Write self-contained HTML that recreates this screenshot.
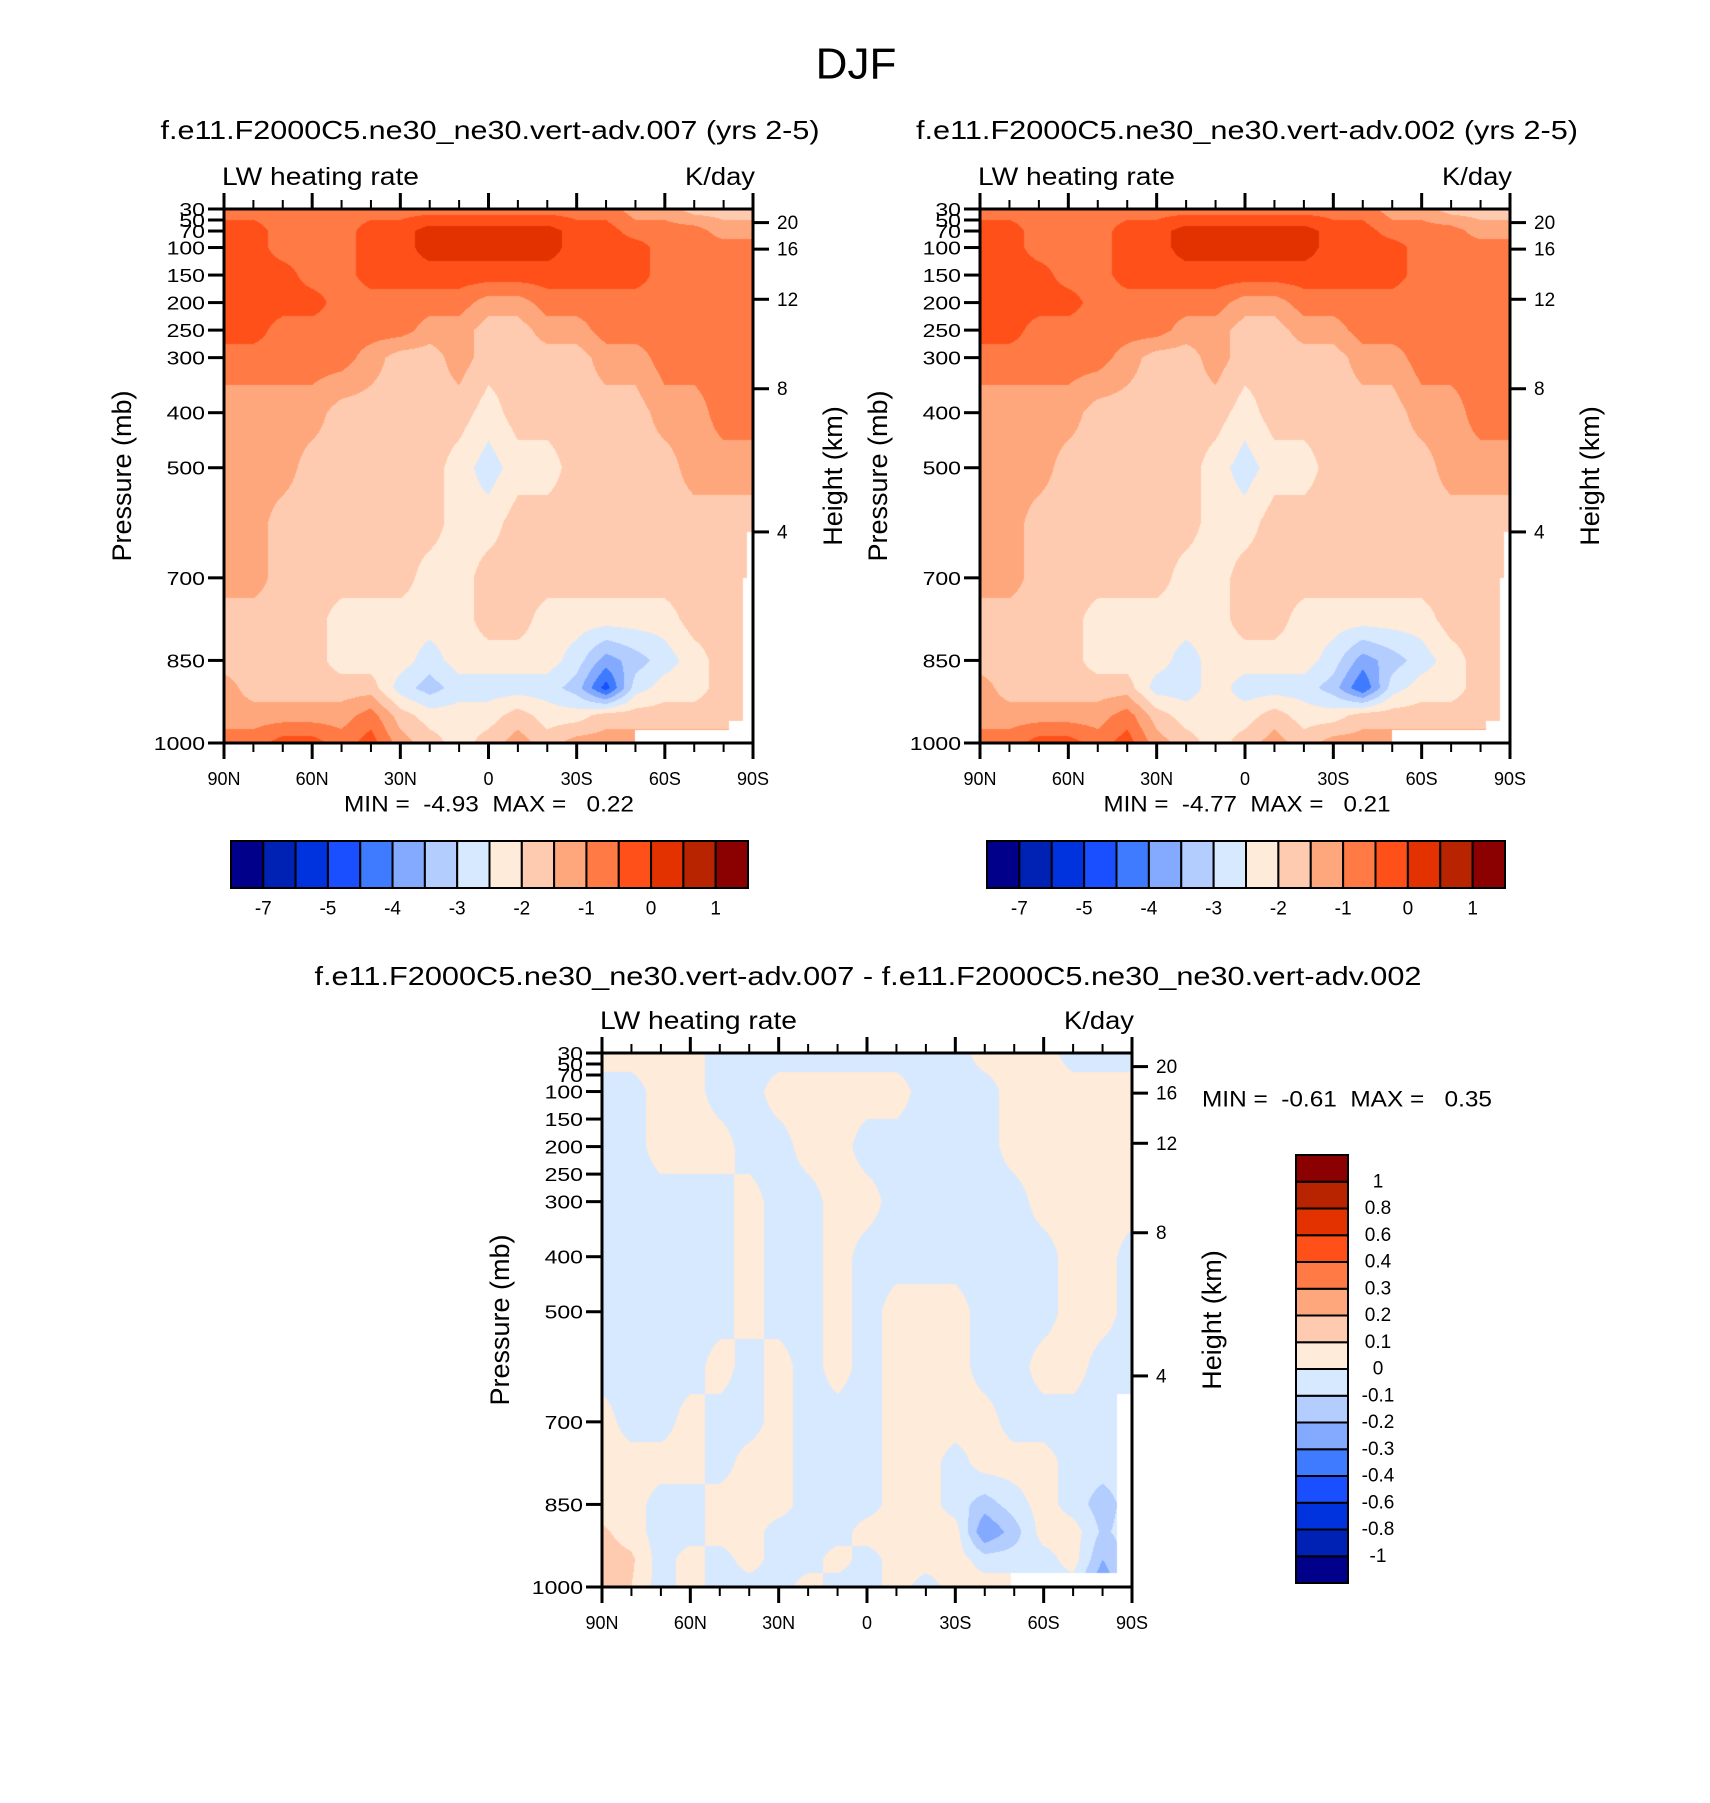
<!DOCTYPE html>
<html><head><meta charset="utf-8">
<style>
html,body{margin:0;padding:0;background:#fff;}
#wrap{position:relative;width:1710px;height:1803px;overflow:hidden;background:#fff;}
canvas{position:absolute;}
svg{position:absolute;left:0;top:0;}
text{font-family:"Liberation Sans",sans-serif;fill:#000;}
</style></head>
<body>
<div id="wrap">
<canvas id="c1"></canvas>
<canvas id="c2"></canvas>
<canvas id="c3"></canvas>
<svg id="svg" width="1710" height="1803" viewBox="0 0 1710 1803"></svg>
</div>
<script>
// ---------- DATA ----------
const palette = ["#00008a","#0022b4","#0033dd","#1a4fff","#3f7bff","#84aaff","#b3cdff","#d7e9ff","#ffebd9","#ffcbb0","#ffa77c","#ff7a44","#ff5019","#e33200","#b82300","#8b0000"];
const levels1 = [-7,-6,-5,-4.5,-4,-3.5,-3,-2.5,-2,-1.5,-1,-0.5,0,0.5,1];
const cbLabels1 = ["-7","","-5","","-4","","-3","","-2","","-1","","0","","1"];
const levels3 = [-1,-0.8,-0.6,-0.4,-0.3,-0.2,-0.1,0,0.1,0.2,0.3,0.4,0.6,0.8,1];
const cbLabels3 = ["-1","-0.8","-0.6","-0.4","-0.3","-0.2","-0.1","0","0.1","0.2","0.3","0.4","0.6","0.8","1"];
const lats = [90,80,70,60,50,40,30,20,10,0,-10,-20,-30,-40,-50,-60,-70,-80,-90];
const pres1 = [30,70,100,150,200,250,300,400,500,600,700,775,850,900,950,1000];
const field1 = [
[-0.75,-0.75,-0.75,-0.75,-0.75,-0.75,-0.75,-0.75,-0.75,-0.75,-0.75,-0.75,-0.75,-0.75,-1.25,-1.25,-1.75,-1.75,-1.75],
[-0.25,-0.25,-0.75,-0.75,-0.75,-0.25,-0.25,0.25,0.25,0.25,0.25,0.25,-0.25,-0.25,-0.75,-0.75,-0.75,-1.25,-1.25],
[-0.25,-0.25,-0.75,-0.75,-0.75,-0.25,-0.25,0.25,0.25,0.25,0.25,0.25,-0.25,-0.25,-0.25,-0.75,-0.75,-0.75,-0.75],
[-0.25,-0.25,-0.25,-0.75,-0.75,-0.25,-0.25,-0.25,-0.25,-0.25,-0.25,-0.25,-0.25,-0.25,-0.25,-0.75,-0.75,-0.75,-0.75],
[-0.25,-0.25,-0.25,-0.25,-0.75,-0.75,-0.75,-0.75,-0.75,-1.25,-1.25,-0.75,-0.75,-0.75,-0.75,-0.75,-0.75,-0.75,-0.75],
[-0.25,-0.25,-0.75,-0.75,-0.75,-0.75,-0.75,-1.25,-1.25,-1.75,-1.75,-1.25,-1.25,-0.75,-0.75,-0.75,-0.75,-0.75,-0.75],
[-0.75,-0.75,-0.75,-0.75,-0.75,-1.25,-1.75,-1.75,-1.25,-1.75,-1.75,-1.75,-1.75,-1.25,-1.25,-0.75,-0.75,-0.75,-0.75],
[-1.25,-1.25,-1.25,-1.25,-1.75,-1.75,-1.75,-1.75,-1.75,-2.25,-1.75,-1.75,-1.75,-1.75,-1.75,-1.25,-1.25,-0.75,-0.75],
[-1.25,-1.25,-1.25,-1.75,-1.75,-1.75,-1.75,-1.75,-2.25,-2.75,-2.25,-2.25,-1.75,-1.75,-1.75,-1.75,-1.25,-1.25,-1.25],
[-1.25,-1.25,-1.75,-1.75,-1.75,-1.75,-1.75,-1.75,-2.25,-2.25,-1.75,-1.75,-1.75,-1.75,-1.75,-1.75,-1.75,-1.75,-1.75],
[-1.25,-1.25,-1.75,-1.75,-1.75,-1.75,-1.75,-2.25,-2.25,-1.75,-1.75,-1.75,-1.75,-1.75,-1.75,-1.75,-1.75,-1.75,-1.75],
[-1.75,-1.75,-1.75,-1.75,-2.25,-2.25,-2.25,-2.25,-2.25,-1.75,-1.75,-2.25,-2.25,-2.25,-2.25,-2.25,-1.75,-1.75,-1.75],
[-1.75,-1.75,-1.75,-1.75,-2.25,-2.25,-2.25,-2.75,-2.25,-2.25,-2.25,-2.25,-2.75,-3.75,-3.25,-2.75,-2.25,-1.75,-1.75],
[-1.25,-1.75,-1.75,-1.75,-1.75,-1.75,-2.75,-3.25,-2.75,-2.75,-2.75,-2.75,-3.25,-4.75,-2.75,-2.25,-2.25,-1.75,-1.75],
[-1.25,-1.25,-1.25,-1.25,-1.25,-0.75,-1.75,-2.25,-2.25,-2.25,-1.75,-2.25,-2.25,-1.75,-1.75,-1.75,-1.75,-1.75,-1.75],
[-0.75,-0.75,-0.25,-0.25,-0.75,-0.25,-1.25,-1.75,-2.25,-1.75,-1.25,-1.75,-1.25,-1.25,-1.25,-1.25,-1.25,-1.25,-1.25]
];
const field2 = [
[-0.75,-0.75,-0.75,-0.75,-0.75,-0.75,-0.75,-0.75,-0.75,-0.75,-0.75,-0.75,-0.75,-0.75,-1.25,-1.25,-1.75,-1.75,-1.75],
[-0.25,-0.25,-0.75,-0.75,-0.75,-0.25,-0.25,0.25,0.25,0.25,0.25,0.25,-0.25,-0.25,-0.75,-0.75,-0.75,-1.25,-1.25],
[-0.25,-0.25,-0.75,-0.75,-0.75,-0.25,-0.25,0.25,0.25,0.25,0.25,0.25,-0.25,-0.25,-0.25,-0.75,-0.75,-0.75,-0.75],
[-0.25,-0.25,-0.25,-0.75,-0.75,-0.25,-0.25,-0.25,-0.25,-0.25,-0.25,-0.25,-0.25,-0.25,-0.25,-0.75,-0.75,-0.75,-0.75],
[-0.25,-0.25,-0.25,-0.25,-0.75,-0.75,-0.75,-0.75,-0.75,-1.25,-1.25,-0.75,-0.75,-0.75,-0.75,-0.75,-0.75,-0.75,-0.75],
[-0.25,-0.25,-0.75,-0.75,-0.75,-0.75,-0.75,-1.25,-1.25,-1.75,-1.75,-1.25,-1.25,-0.75,-0.75,-0.75,-0.75,-0.75,-0.75],
[-0.75,-0.75,-0.75,-0.75,-0.75,-1.25,-1.75,-1.75,-1.25,-1.75,-1.75,-1.75,-1.75,-1.25,-1.25,-0.75,-0.75,-0.75,-0.75],
[-1.25,-1.25,-1.25,-1.25,-1.75,-1.75,-1.75,-1.75,-1.75,-2.25,-1.75,-1.75,-1.75,-1.75,-1.75,-1.25,-1.25,-0.75,-0.75],
[-1.25,-1.25,-1.25,-1.75,-1.75,-1.75,-1.75,-1.75,-2.25,-2.75,-2.25,-2.25,-1.75,-1.75,-1.75,-1.75,-1.25,-1.25,-1.25],
[-1.25,-1.25,-1.75,-1.75,-1.75,-1.75,-1.75,-1.75,-2.25,-2.25,-1.75,-1.75,-1.75,-1.75,-1.75,-1.75,-1.75,-1.75,-1.75],
[-1.25,-1.25,-1.75,-1.75,-1.75,-1.75,-1.75,-2.25,-2.25,-1.75,-1.75,-1.75,-1.75,-1.75,-1.75,-1.75,-1.75,-1.75,-1.75],
[-1.75,-1.75,-1.75,-1.75,-2.25,-2.25,-2.25,-2.25,-2.25,-1.75,-1.75,-2.25,-2.25,-2.25,-2.25,-2.25,-1.75,-1.75,-1.75],
[-1.75,-1.75,-1.75,-1.75,-2.25,-2.25,-2.25,-2.75,-2.25,-2.25,-2.25,-2.25,-2.75,-3.75,-3.25,-2.75,-2.25,-1.75,-1.75],
[-1.25,-1.75,-1.75,-1.75,-1.75,-1.75,-2.75,-2.75,-2.25,-2.75,-2.75,-2.75,-3.25,-4.5,-2.75,-2.25,-2.25,-1.75,-1.75],
[-1.25,-1.25,-1.25,-1.25,-1.25,-0.75,-1.75,-2.25,-2.25,-2.25,-1.75,-2.25,-2.25,-1.75,-1.75,-1.75,-1.75,-1.75,-1.75],
[-0.75,-0.75,-0.25,-0.25,-0.75,-0.25,-1.25,-1.75,-2.25,-1.75,-1.25,-1.75,-1.25,-1.25,-1.25,-1.25,-1.25,-1.25,-1.25]
];
const pres3 = [30,100,200,300,400,500,600,700,775,850,900,950,1000];
const field3 = [
[0.05,0.05,0.05,0.05,-0.05,-0.05,-0.05,-0.05,-0.05,-0.05,-0.05,-0.05,-0.05,0.05,0.05,0.05,-0.05,-0.05,-0.05],
[-0.05,-0.05,0.05,0.05,-0.05,-0.05,0.05,0.05,0.05,0.05,0.05,-0.05,-0.05,-0.05,0.05,0.05,0.05,0.05,0.05],
[-0.05,-0.05,0.05,0.05,0.05,-0.05,-0.05,0.05,0.05,-0.05,-0.05,-0.05,-0.05,-0.05,0.05,0.05,0.05,0.05,0.05],
[-0.05,-0.05,-0.05,-0.05,-0.05,0.05,-0.05,-0.05,0.05,0.05,-0.05,-0.05,-0.05,-0.05,-0.05,0.05,0.05,0.05,0.05],
[-0.05,-0.05,-0.05,-0.05,-0.05,0.05,-0.05,-0.05,0.05,-0.05,-0.05,-0.05,-0.05,-0.05,-0.05,-0.05,0.05,0.05,-0.05],
[-0.05,-0.05,-0.05,-0.05,-0.05,0.05,-0.05,-0.05,0.05,-0.05,0.05,0.05,0.05,-0.05,-0.05,-0.05,0.05,0.05,-0.05],
[-0.05,-0.05,-0.05,-0.05,0.05,-0.05,0.05,-0.05,0.05,-0.05,0.05,0.05,0.05,-0.05,-0.05,0.05,0.05,-0.05,-0.05],
[0.05,-0.05,-0.05,0.05,-0.05,-0.05,0.05,-0.05,-0.05,-0.05,0.05,0.05,0.05,0.05,-0.05,-0.05,-0.05,-0.05,-0.05],
[0.05,0.05,0.05,0.05,-0.05,0.05,0.05,-0.05,-0.05,-0.05,0.05,0.05,-0.05,0.05,0.05,0.05,-0.05,-0.05,-0.05],
[0.05,0.05,-0.05,-0.05,0.05,0.05,0.05,-0.05,-0.05,-0.05,0.05,0.05,-0.05,-0.15,-0.05,0.05,-0.05,-0.15,-0.05],
[0.12,0.05,-0.05,-0.05,0.05,0.05,-0.05,-0.05,-0.05,0.05,0.05,0.05,0.05,-0.3,-0.15,0.05,0.05,-0.12,-0.05],
[0.15,0.12,-0.05,0.05,-0.05,0.05,-0.05,-0.05,0.05,-0.05,0.05,0.05,0.05,-0.05,-0.05,-0.05,0.05,-0.2,-0.05],
[0.15,0.1,-0.05,0.05,-0.05,-0.05,-0.05,0.05,-0.05,-0.05,0.05,-0.05,0.05,0.05,0.05,-0.05,-0.05,-0.3,-0.05]
];
// missing-data regions [latFrom, latTo, pFrom, pTo]
const missing1 = [[-50,-82,977,1000],[-82,-90,960,1000],[-86.5,-90,700,1000],[-88,-90,617,700]];
const missing3 = [[-49,-90,975,1000],[-85,-90,650,1000]];
const latTickMajor = [90,60,30,0,-30,-60,-90];
const latTickLabels = ["90N","60N","30N","0","30S","60S","90S"];
const latTickMinor = [80,70,50,40,20,10,-10,-20,-40,-50,-70,-80];
const presTicks = [30,50,70,100,150,200,250,300,400,500,700,850,1000];
const heightKm = [20,16,12,8,4];
const heightPres = [54.7,102.9,194.0,356.5,616.6];

// ---------- LAYOUT ----------
const P = [
 {x:224,y:209,w:529,h:534},
 {x:980,y:209,w:530,h:534},
 {x:602,y:1053,w:530,h:534}
];
const svg = document.getElementById('svg');
const NS = 'http://www.w3.org/2000/svg';
function mk(tag, attrs, parent){const e=document.createElementNS(NS,tag);for(const k in attrs)e.setAttribute(k,attrs[k]);(parent||svg).appendChild(e);return e;}
function txt(s, x, y, size, anchor, len){const t=mk('text',{x:x,y:y,'font-size':size,'text-anchor':anchor||'start','dominant-baseline':'central'});if(len){t.setAttribute('textLength',len);t.setAttribute('lengthAdjust','spacingAndGlyphs');}t.textContent=s;return t;}

function hex(c){return [parseInt(c.slice(1,3),16),parseInt(c.slice(3,5),16),parseInt(c.slice(5,7),16)];}

function drawField(cid, r, field, pres, levels, missing){
  const cv=document.getElementById(cid);
  cv.width=r.w;cv.height=r.h;cv.style.left=r.x+'px';cv.style.top=r.y+'px';
  const ctx=cv.getContext('2d');const img=ctx.createImageData(r.w,r.h);
  const pal=palette.map(hex);
  const nc=lats.length;
  for(let j=0;j<r.h;j++){
    const p=30+(j+0.5)/r.h*970;
    let k=0;while(k<pres.length-2 && p>pres[k+1])k++;
    const ty=Math.max(0,Math.min(1,(p-pres[k])/(pres[k+1]-pres[k])));
    for(let i=0;i<r.w;i++){
      const fx=(i+0.5)/r.w*(nc-1);const c=Math.min(nc-2,Math.floor(fx));const tx=fx-c;
      const v=(field[k][c]*(1-tx)+field[k][c+1]*tx)*(1-ty)+(field[k+1][c]*(1-tx)+field[k+1][c+1]*tx)*ty;
      let li=0;while(li<levels.length && v>=levels[li])li++;
      let col=pal[li];
      const lat=90-(i+0.5)/r.w*180;
      for(const m of missing){if(lat<=m[0]&&lat>=m[1]&&p>=m[2]&&p<=m[3]){col=[255,255,255];break;}}
      const o=(j*r.w+i)*4;img.data[o]=col[0];img.data[o+1]=col[1];img.data[o+2]=col[2];img.data[o+3]=255;
    }
  }
  ctx.putImageData(img,0,0);
}
drawField('c1',P[0],field1,pres1,levels1,missing1);
drawField('c2',P[1],field2,pres1,levels1,missing1);
drawField('c3',P[2],field3,pres3,levels3,missing3);

function xLat(r,lat){return r.x+(90-lat)/180*r.w;}
function yP(r,p){return r.y+(p-30)/970*r.h;}

function axes(r, idx){
  const g=mk('g',{});
  
  
  const frame=mk('rect',{x:r.x,y:r.y,width:r.w,height:r.h,fill:'none',stroke:'#000','stroke-width':3},g);
  
  
  latTickMajor.forEach((lat,i)=>{
    const x=xLat(r,lat);
    mk('line',{x1:x,y1:r.y,x2:x,y2:r.y-16,stroke:'#000','stroke-width':3},g);
    mk('line',{x1:x,y1:r.y+r.h,x2:x,y2:r.y+r.h+16,stroke:'#000','stroke-width':3},g);
    const t=txt(latTickLabels[i],x,r.y+r.h+36,18,'middle');
    
    
  });
  latTickMinor.forEach(lat=>{
    const x=xLat(r,lat);
    mk('line',{x1:x,y1:r.y,x2:x,y2:r.y-9,stroke:'#000','stroke-width':2},g);
    mk('line',{x1:x,y1:r.y+r.h,x2:x,y2:r.y+r.h+9,stroke:'#000','stroke-width':2},g);
  });
  presTicks.forEach(p=>{
    const y=yP(r,p);
    mk('line',{x1:r.x,y1:y,x2:r.x-16,y2:y,stroke:'#000','stroke-width':3},g);
    const s=String(p);
    const t=txt(s,r.x-19,y+1,18,'end',s.length*12.8);
    
    
  });
  heightKm.forEach((h,i)=>{
    const y=yP(r,heightPres[i]);
    mk('line',{x1:r.x+r.w,y1:y,x2:r.x+r.w+16,y2:y,stroke:'#000','stroke-width':3},g);
    const t=txt(String(h),r.x+r.w+24,y+1,19,'start');
    
    
  });
  const pl=txt('Pressure (mb)',0,0,27,'middle');
  pl.setAttribute('transform','translate('+(r.x-102)+','+(r.y+r.h*0.5)+') rotate(-90)');
  
  
  const hl=txt('Height (km)',0,0,27,'middle');
  hl.setAttribute('transform','translate('+(r.x+r.w+80)+','+(r.y+r.h*0.5)+') rotate(-90)');
  
  
  const lw=txt('LW heating rate',r.x-2,r.y-32,25,'start',197);
  
  
  const kd=txt('K/day',r.x+r.w+2,r.y-32,25,'end',70);
  
  
}
axes(P[0],1);axes(P[1],2);axes(P[2],3);

// titles
let t;
t=txt('DJF',856,64,44,'middle');


t=txt('f.e11.F2000C5.ne30_ne30.vert-adv.007 (yrs 2-5)',490,130,26,'middle',659);


t=txt('f.e11.F2000C5.ne30_ne30.vert-adv.002 (yrs 2-5)',1247,130,26,'middle',662);


t=txt('f.e11.F2000C5.ne30_ne30.vert-adv.007 - f.e11.F2000C5.ne30_ne30.vert-adv.002',868,976,26,'middle',1107);


t=txt('MIN =  -4.93  MAX =   0.22',489,804,22,'middle',290);


t=txt('MIN =  -4.77  MAX =   0.21',1247,804,22,'middle',287);


t=txt('MIN =  -0.61  MAX =   0.35',1202,1099,22,'start',290);


[...svg.querySelectorAll('text')].forEach(e=>{e.setAttribute('xml:space','preserve');e.style.whiteSpace='pre';});

// horizontal colorbars
function hbar(x0,x1,y0,y1,name){
  const g=mk('g',{});
  
  
  const bw=(x1-x0)/palette.length;
  palette.forEach((c,i)=>{
    const r=mk('rect',{x:x0+i*bw,y:y0,width:bw,height:y1-y0,fill:c,stroke:'#000','stroke-width':2},g);
    
    
  });
  cbLabels1.forEach((s,i)=>{
    if(!s)return;
    const tt=txt(s,x0+(i+1)*bw,909,19,'middle');
    
    
  });
}
hbar(231,748,841,888,'left-colorbar');
hbar(987,1505,841,888,'right-colorbar');

// vertical colorbar
(function(){
  const x0=1296,x1=1348,y0=1155,y1=1583;
  const g=mk('g',{});
  
  
  const bh=(y1-y0)/palette.length;
  const n=palette.length;
  palette.forEach((c,i)=>{
    const r=mk('rect',{x:x0,y:y0+(n-1-i)*bh,width:x1-x0,height:bh,fill:c,stroke:'#000','stroke-width':2},g);
    
    
  });
  cbLabels3.forEach((s,i)=>{
    const y=y0+(n-1-i)*bh;
    const tt=txt(s,1378,y,19,'middle');
    
    
  });
})();
</script>
</body></html>
